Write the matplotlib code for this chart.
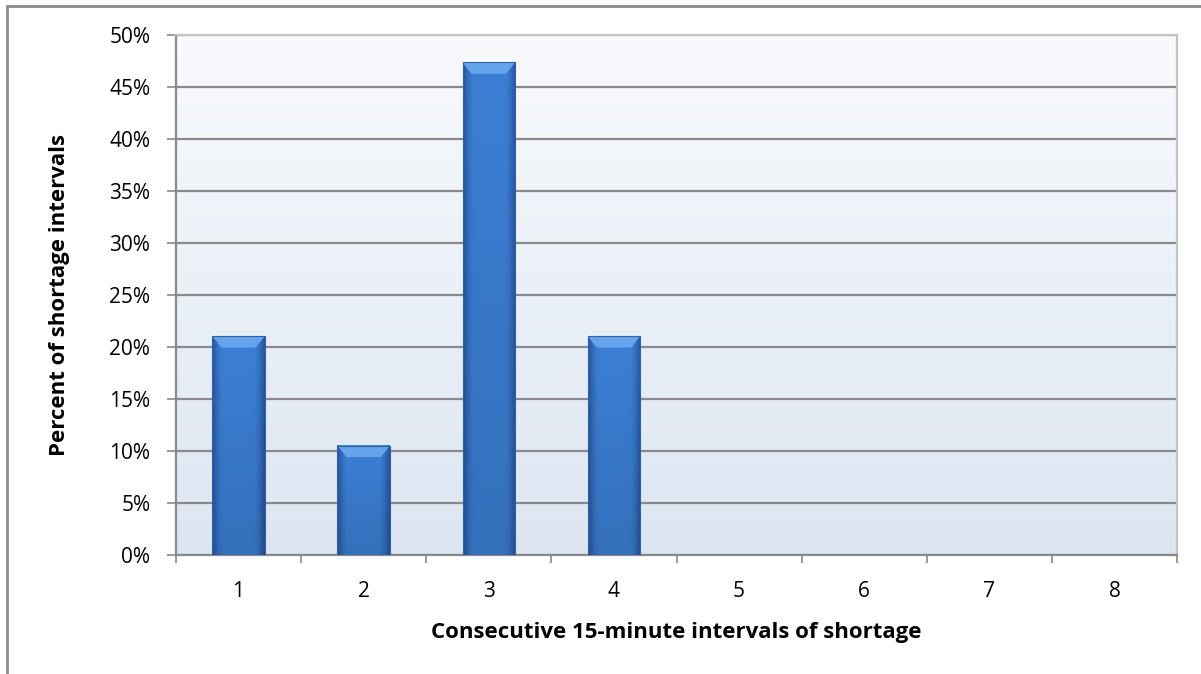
import matplotlib.pyplot as plt
import numpy as np
from matplotlib.patches import Rectangle, Polygon
from matplotlib.ticker import FuncFormatter, MultipleLocator

# share of shortage intervals by run length (4, 2, 9, 4 out of 19 runs)
intervals = [1, 2, 3, 4, 5, 6, 7, 8]
percent = [4 / 19, 2 / 19, 9 / 19, 4 / 19, 0, 0, 0, 0]

plt.rcParams['font.family'] = ['Open Sans', 'DejaVu Sans']

fig = plt.figure(figsize=(12.01, 6.74), dpi=100)
ax = fig.add_axes([176 / 1201, 1 - 555 / 674, (1177 - 176) / 1201, (555 - 35) / 674])

# chart area border (runs off the right and bottom of the image)
fig.patches.append(Rectangle((7 / 1201, -0.05), 1.2, 1 - 6 / 674 + 0.05,
                             transform=fig.transFigure, fill=False,
                             edgecolor='#8c8c8c', linewidth=2))

# plot area background: near white at the top fading to pale blue
bg = np.linspace(0, 1, 256).reshape(-1, 1)
top = np.array([0.976, 0.980, 0.990])
bottom = np.array([0.863, 0.902, 0.949])
bg_img = top + (bottom - top) * bg[..., None]
ax.imshow(bg_img, extent=[0, 1, 0, 1], transform=ax.transAxes,
          aspect='auto', origin='upper', zorder=0)

x = np.arange(len(intervals))
bars = ax.bar(x, percent, width=0.42, color='#3b7dd0', zorder=3)

# bevelled shading on each bar
cols = np.linspace(0, 1, 64)
edge = np.abs(cols - 0.5) * 2
shade = np.clip((edge - 0.6) / 0.4, 0, 1) ** 1.5
mid = np.array([0.235, 0.500, 0.835])
dark = np.array([0.150, 0.330, 0.600])
row = mid + (dark - mid) * shade[:, None]
vert = np.linspace(0, 1, 64)
for b in bars:
    h = b.get_height()
    if h <= 0:
        continue
    x0, w = b.get_x(), b.get_width()
    img = row[None, :, :] * (1 - 0.12 * vert[:, None, None])
    ax.imshow(img, extent=[x0, x0 + w, 0, h], aspect='auto',
              origin='upper', zorder=3.5)
    bevel = 0.011
    inset = w * 0.17
    ax.add_patch(Polygon([[x0, h], [x0 + w, h], [x0 + w - inset, h - bevel],
                          [x0 + inset, h - bevel]], closed=True,
                         facecolor='#65a3ea', edgecolor='none', zorder=4))
    ax.add_patch(Rectangle((x0, 0), w, h, fill=False, edgecolor='#2f62a8',
                           linewidth=0.8, zorder=4.5))

ax.set_xlim(-0.5, len(intervals) - 0.5)
ax.set_ylim(0, 0.5)
ax.yaxis.set_major_locator(MultipleLocator(0.05))
ax.yaxis.set_major_formatter(FuncFormatter(lambda v, p: f'{v * 100:.0f}%'))
ax.yaxis.grid(True, color='#8a8a8a', linewidth=1.6, zorder=1)
ax.set_axisbelow(True)

ax.set_xticks(x)
ax.set_xticklabels([str(i) for i in intervals])
ax.set_xticks(np.arange(-0.5, len(intervals)), minor=True)
ax.tick_params(axis='x', which='major', length=0, pad=19, labelsize=15)
ax.tick_params(axis='x', which='minor', length=6, width=1.2, color='#8a8a8a')
ax.tick_params(axis='y', length=6.5, width=1.2, color='#8a8a8a', labelsize=15, pad=12)

for side in ['left', 'bottom']:
    ax.spines[side].set_color('#8a8a8a')
    ax.spines[side].set_linewidth(1.6)
for side in ['top', 'right']:
    ax.spines[side].set_color('#c4c4c4')
    ax.spines[side].set_linewidth(1.6)

ax.set_xlabel('Consecutive 15-minute intervals of shortage', fontsize=16,
              fontweight='bold', labelpad=14)
ax.set_ylabel('Percent of shortage intervals', fontsize=16,
              fontweight='bold', labelpad=28)

fig.savefig('out.png', dpi=100)
